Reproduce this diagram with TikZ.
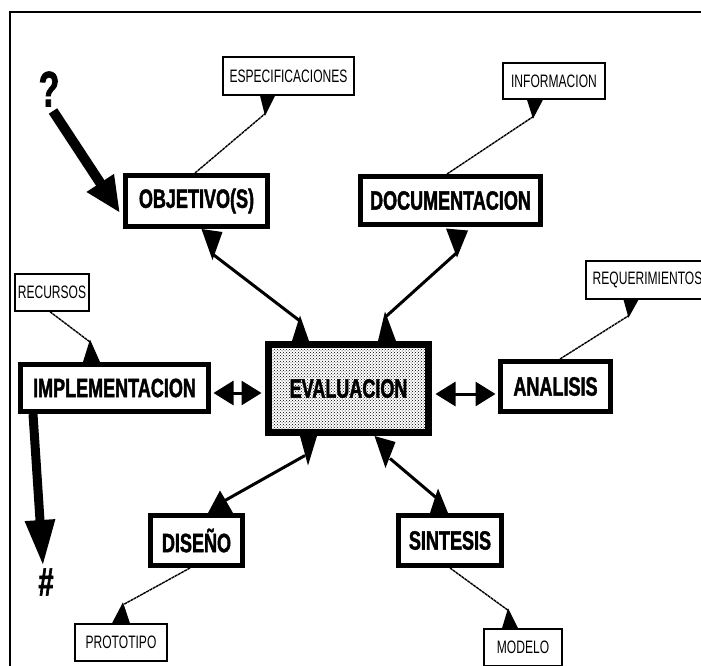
\documentclass[tikz,border=0pt]{standalone}
\usepackage{fontspec}
\setmainfont{Liberation Sans}
\newfontfamily\labfont[FakeStretch=0.68, BoldFeatures={FakeBold=1.5}]{Liberation Sans}
\newfontfamily\tagfont[FakeStretch=0.67]{Liberation Sans}
\usetikzlibrary{arrows.meta,calc,patterns}

\begin{document}
\begin{tikzpicture}[x=1pt,y=-1pt,
  box/.style={draw, line width=5pt, inner sep=0pt,
    font=\labfont\bfseries\fontsize{26.5}{26.5}\selectfont},
  tag/.style={draw, line width=1.5pt, inner sep=0pt,
    font=\tagfont\fontsize{18}{18}\selectfont},
  dbl/.style={line width=3pt, {Triangle[length=20pt,width=24pt]}-{Triangle[length=20pt,width=24pt]}},
  link/.style={line width=3pt},
  thin/.style={line width=1.4pt, dash pattern=on 3pt off 0.6pt},
  head/.style={fill=black},
  heavy/.style={line width=#1},
  sign/.style={inner sep=0pt, font=\labfont\bfseries\fontsize{#1}{#1}\selectfont}]

\useasboundingbox (0,0) rectangle (701,666);
\clip (0,0) rectangle (701,666);

% frame
\draw[line width=2pt] (10,670) -- (10,12) -- (705,12);

% main boxes
\node[box, minimum width=142pt, minimum height=51pt] (obj) at (196.5,201) {OBJETIVO(S)};
\node[box, minimum width=180pt, minimum height=48pt] (doc) at (450.5,200.5) {DOCUMENTACION};
\node[box, minimum width=188pt, minimum height=47pt] (impl) at (114.5,388) {IMPLEMENTACION};
\node[box, line width=7pt, minimum width=160pt, minimum height=88pt,
      pattern=crosshatch dots] (eval) at (348.5,388.5) {EVALUACION};
\node[box, minimum width=110pt, minimum height=50pt] (anal) at (555.5,386.5) {ANALISIS};
\node[box, minimum width=92pt, minimum height=50pt] (dis) at (196.5,540.5) {DISEÑO};
\node[box, minimum width=103pt, minimum height=50pt] (sin) at (450,540.5) {SINTESIS};

% small boxes
\node[tag, minimum width=131pt, minimum height=38pt] (esp) at (288.5,76) {ESPECIFICACIONES};
\node[tag, minimum width=102pt, minimum height=36pt] (info) at (554,81) {INFORMACION};
\node[tag, minimum width=74pt, minimum height=37pt] (rec) at (52,292.5) {RECURSOS};
\node[tag, minimum width=123pt, minimum height=38pt] (req) at (647.5,280) {REQUERIMIENTOS};
\node[tag, minimum width=92pt, minimum height=37pt] (proto) at (121,642.5) {PROTOTIPO};
\node[tag, minimum width=78pt, minimum height=37pt] (mod) at (523,647.5) {MODELO};

% signs
\node[sign=50] (q) at (49,89) {?};
\node[sign=40] (hash) at (46,582) {\#};

% objetivo <-> evaluacion
\draw[link] ($(obj.south)+(16,25)$) -- ($(eval.north)+(-48.5,-20)$);
\fill[head] ($(obj.south)+(5,0)$) -- ($(obj.south)+(26,3)$) -- ($(obj.south)+(16,31)$) -- cycle;
\fill[head] ($(eval.north)+(-56.5,0)$) -- ($(eval.north)+(-39.5,0)$) -- ($(eval.north)+(-48.5,-25.5)$) -- cycle;

% documentacion <-> evaluacion
\draw[link] ($(doc.south)+(6.5,25.5)$) -- ($(eval.north)+(37.5,-24.5)$);
\fill[head] ($(doc.south)+(-4.5,1.5)$) -- ($(doc.south)+(17.5,3.5)$) -- ($(doc.south)+(6.5,30.5)$) -- cycle;
\fill[head] ($(eval.north)+(29.5,0)$) -- ($(eval.north)+(47.5,0)$) -- ($(eval.north)+(36.5,-29.5)$) -- cycle;

% implementacion <-> evaluacion <-> analisis
\draw[dbl] ($(impl.east)+(2.5,5)$) -- ($(eval.west)+(-3.5,4.5)$);
\draw[dbl] ($(eval.east)+(3.5,5.5)$) -- ($(anal.west)+(-2.5,7.5)$);

% evaluacion <-> diseno
\draw[link] ($(eval.south)+(-43.5,19.5)$) -- ($(dis.north)+(28.5,-12.5)$);
\fill[head] ($(eval.south)+(-48.5,0)$) -- ($(eval.south)+(-31.5,0)$) -- ($(eval.south)+(-40.5,29.5)$) -- cycle;
\fill[head] ($(dis.north)+(11.5,0)$) -- ($(dis.north)+(36.5,0)$) -- ($(dis.north)+(23.5,-22.5)$) -- cycle;

% evaluacion <-> sintesis
\draw[link] ($(eval.south)+(41.5,22.5)$) -- ($(sin.north)+(-14,-15.5)$);
\fill[head] ($(eval.south)+(26,0)$) -- ($(eval.south)+(47,6)$) -- ($(eval.south)+(37,32)$) -- cycle;
\fill[head] ($(sin.north)+(-20,0)$) -- ($(sin.north)+(-2,0)$) -- ($(sin.north)+(-12,-24.5)$) -- cycle;

% thin links to the small boxes
\draw[thin] ($(obj.north)+(-1.5,0)$) -- ($(esp.south)+(-23.5,18)$);
\fill[head] ($(esp.south)+(-28.5,0)$) -- ($(esp.south)+(-13.5,0)$) -- ($(esp.south)+(-23.5,20)$) -- cycle;

\draw[thin] ($(doc.north)+(-3.5,0)$) -- ($(info.south)+(-21,17)$);
\fill[head] ($(info.south)+(-27,0)$) -- ($(info.south)+(-11,0)$) -- ($(info.south)+(-21,19)$) -- cycle;

\draw[thin] ($(rec.south)+(-2,0)$) -- ($(impl.north)+(-24.5,-20)$);
\fill[head] ($(impl.north)+(-31.5,0)$) -- ($(impl.north)+(-14.5,0)$) -- ($(impl.north)+(-24.5,-22.5)$) -- cycle;

\draw[thin] ($(anal.north)+(4.5,0)$) -- ($(req.south)+(-19,16)$);
\fill[head] ($(req.south)+(-24,0)$) -- ($(req.south)+(-9,0)$) -- ($(req.south)+(-19,18)$) -- cycle;

\draw[thin] ($(dis.south)+(-6.5,0)$) -- ($(proto.north)+(3,-19)$);
\fill[head] ($(proto.north)+(-9,0)$) -- ($(proto.north)+(9,0)$) -- ($(proto.north)+(2,-21)$) -- cycle;

\draw[thin] (sin.south) -- ($(mod.north)+(-15,-18)$);
\fill[head] ($(mod.north)+(-21,0)$) -- ($(mod.north)+(-5,0)$) -- ($(mod.north)+(-15,-20)$) -- cycle;

% heavy arrows
\draw[heavy=10pt, -{Triangle[length=36pt,width=30pt]}] ($(q)+(4,22)$) -- ($(obj.west)+(-3,12)$);
\draw[heavy=9pt, -{Triangle[length=46pt,width=28pt]}] ($(impl.south west)+(15,0)$) -- ($(hash)+(-3,-16)$);
\end{tikzpicture}
\end{document}
